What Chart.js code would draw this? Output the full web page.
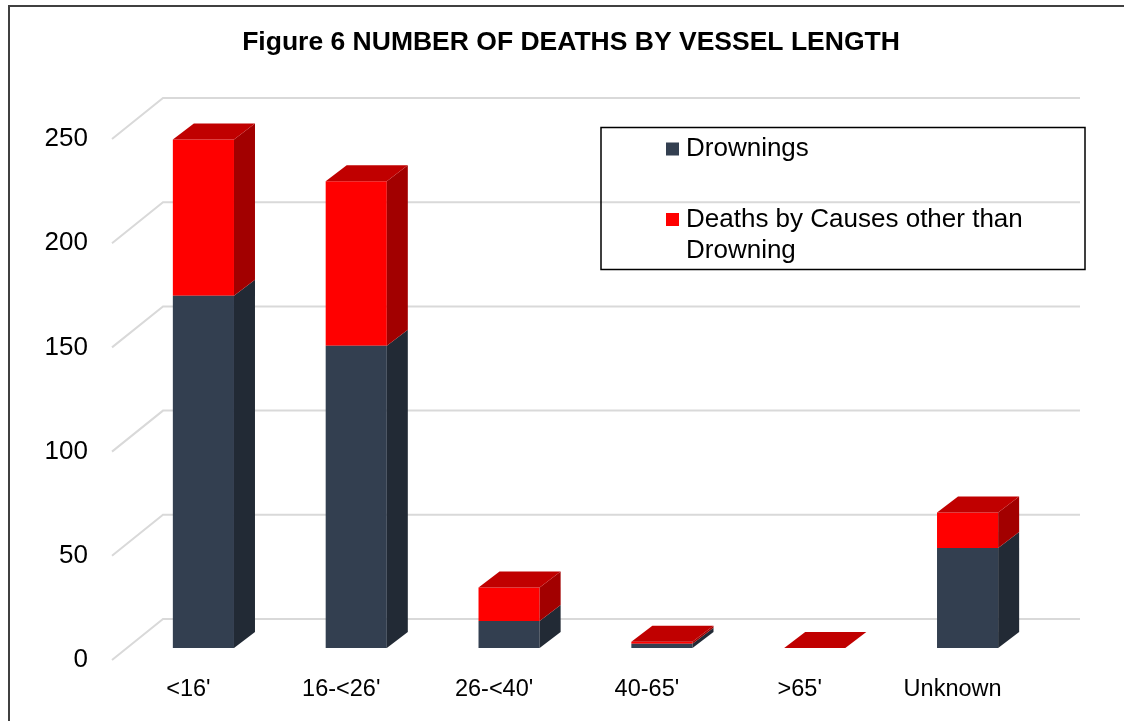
<!DOCTYPE html>
<html>
<head>
<meta charset="utf-8">
<script src="https://cdn.jsdelivr.net/npm/chart.js@4.4.0/dist/chart.umd.min.js"></script>
<style>
  html, body { margin: 0; padding: 0; background: #ffffff; }
  #wrap { width: 1124px; height: 721px; }
</style>
</head>
<body>
<div id="wrap"><canvas id="c" width="1124" height="721"></canvas></div>
<script>
// ---- data ----
const categories = ["<16'", "16-<26'", "26-<40'", "40-65'", ">65'", "Unknown"];
const drownings = [169, 145, 13, 2, 0, 48];
const otherCauses = [75, 79, 16, 1, 0, 17];
const seriesNames = ["Drownings", "Deaths by Causes other than Drowning"];
const titleText = "Figure 6 NUMBER OF DEATHS BY VESSEL LENGTH";
const yMin = 0, yMax = 250, yStep = 50;

// ---- styles ----
const FONT = "'Liberation Sans', Arial, Helvetica, sans-serif";
const frontColors = ['#333F50', '#FF0000'];
const sideColors = ['#222A35', '#A20000'];
const topColors = ['#2B3544', '#C00000'];

const BAR_DX = 21, BAR_DY = -16;
const BACK_DX = 36, BACK_DY = -29;
const FRONT_DX = -15, FRONT_DY = 12;

const grid3d = {
  id: 'grid3d',
  beforeDatasetsDraw(chart) {
    const ctx = chart.ctx, y = chart.scales.y, a = chart.chartArea;
    ctx.save();
    ctx.strokeStyle = '#D9D9D9';
    ctx.lineWidth = 2;
    y.ticks.forEach(t => {
      const p = y.getPixelForValue(t.value);
      ctx.beginPath();
      ctx.moveTo(a.left + FRONT_DX, p + FRONT_DY);
      ctx.lineTo(a.left + BACK_DX, p + BACK_DY);
      ctx.lineTo(a.right + BACK_DX, p + BACK_DY);
      ctx.stroke();
    });
    ctx.restore();
  }
};

const bars3d = {
  id: 'bars3d',
  afterDatasetsDraw(chart) {
    const ctx = chart.ctx;
    const metas = chart.getSortedVisibleDatasetMetas();
    const n = chart.data.labels.length;
    ctx.save();
    for (let i = 0; i < n; i++) {
      metas.forEach((m, k) => {
        const el = m.data[i];
        const p = el.getProps(['x', 'y', 'base', 'width'], true);
        const x2 = p.x + p.width / 2;
        const yTop = Math.min(p.y, p.base), yBot = Math.max(p.y, p.base);
        if (yBot - yTop > 0.01) {
          ctx.fillStyle = sideColors[k];
          ctx.beginPath();
          ctx.moveTo(x2, yTop);
          ctx.lineTo(x2 + BAR_DX, yTop + BAR_DY);
          ctx.lineTo(x2 + BAR_DX, yBot + BAR_DY);
          ctx.lineTo(x2, yBot);
          ctx.closePath();
          ctx.fill();
        }
      });
      const last = metas.length - 1;
      const el = metas[last].data[i];
      const p = el.getProps(['x', 'y', 'base', 'width'], true);
      const x1 = p.x - p.width / 2, x2 = p.x + p.width / 2;
      const yTop = Math.min(p.y, p.base);
      ctx.fillStyle = topColors[last];
      ctx.beginPath();
      ctx.moveTo(x1, yTop);
      ctx.lineTo(x1 + BAR_DX, yTop + BAR_DY);
      ctx.lineTo(x2 + BAR_DX, yTop + BAR_DY);
      ctx.lineTo(x2, yTop);
      ctx.closePath();
      ctx.fill();
    }
    ctx.restore();
  }
};

const decorations = {
  id: 'decorations',
  afterDraw(chart) {
    const ctx = chart.ctx;
    ctx.save();
    // outer frame
    ctx.strokeStyle = '#404040';
    ctx.lineWidth = 2;
    ctx.beginPath();
    ctx.moveTo(9, 730);
    ctx.lineTo(9, 6);
    ctx.lineTo(1130, 6);
    ctx.stroke();
    // title
    ctx.fillStyle = '#000';
    ctx.font = 'bold 26.5px ' + FONT;
    ctx.textAlign = 'center';
    ctx.textBaseline = 'middle';
    ctx.fillText(titleText, 571, 43);
    // legend
    ctx.strokeStyle = '#000';
    ctx.lineWidth = 1.5;
    ctx.strokeRect(601, 127.5, 484, 142);
    ctx.font = '26px ' + FONT;
    ctx.textBaseline = 'middle';
    ctx.textAlign = 'left';
    ctx.fillStyle = frontColors[0];
    ctx.fillRect(666, 142.5, 13, 13);
    ctx.fillStyle = '#000';
    ctx.fillText(seriesNames[0], 686, 149);
    ctx.fillStyle = frontColors[1];
    ctx.fillRect(666, 213, 13, 13);
    ctx.fillStyle = '#000';
    const words = seriesNames[1].split(' ');
    ctx.fillText(words.slice(0, -1).join(' '), 686, 219.5);
    ctx.fillText(words[words.length - 1], 686, 250.5);
    ctx.restore();
  }
};

new Chart(document.getElementById('c'), {
  type: 'bar',
  data: {
    labels: categories,
    datasets: [
      { label: seriesNames[0], data: drownings, backgroundColor: frontColors[0], borderWidth: 0 },
      { label: seriesNames[1], data: otherCauses, backgroundColor: frontColors[1], borderWidth: 0 }
    ]
  },
  options: {
    responsive: false,
    animation: false,
    layout: { padding: { left: 0, right: 80, top: 127, bottom: 0 } },
    datasets: { bar: { barPercentage: 0.8, categoryPercentage: 0.5 } },
    plugins: {
      legend: { display: false },
      tooltip: { enabled: false },
      title: { display: false }
    },
    scales: {
      x: {
        stacked: true,
        grid: { display: false, drawTicks: false },
        border: { display: false },
        ticks: { color: '#000', font: { family: FONT, size: 23.5 }, padding: 27, labelOffset: FRONT_DX, maxRotation: 0 },
        afterFit(s) { s.height = 73; }
      },
      y: {
        stacked: true,
        min: yMin, max: yMax,
        grid: { display: false, drawTicks: false },
        border: { display: false },
        ticks: { stepSize: yStep, color: '#000', font: { family: FONT, size: 26 }, padding: 39, labelOffset: FRONT_DY },
        afterFit(s) { s.width = 127; }
      }
    }
  },
  plugins: [grid3d, bars3d, decorations]
});
</script>
</body>
</html>
